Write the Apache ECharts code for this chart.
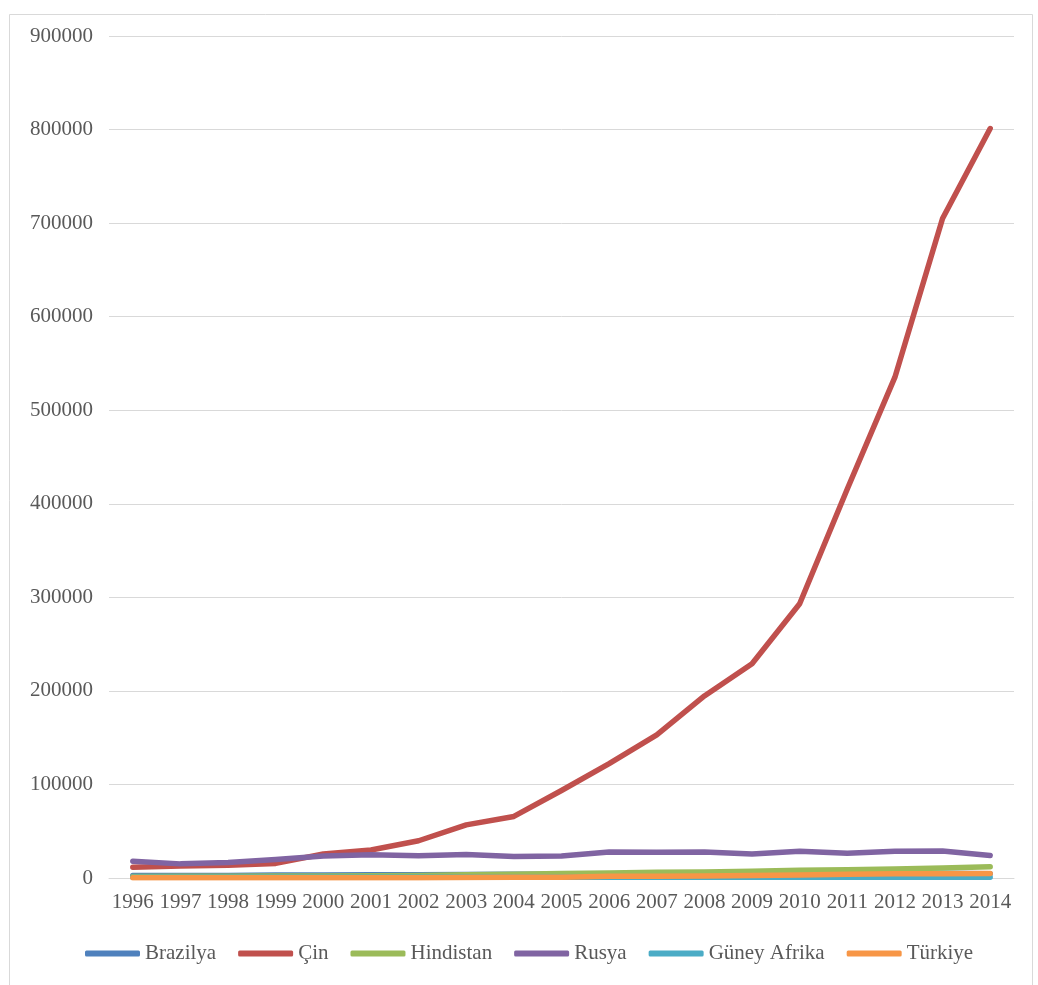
<!DOCTYPE html>
<html>
<head>
<meta charset="utf-8">
<script src="https://cdn.jsdelivr.net/npm/echarts@6/dist/echarts.min.js"></script>
<style>
html,body{margin:0;padding:0;background:#fff;}
#chart{width:1038px;height:985px;}
</style>
</head>
<body>
<div id="chart"></div>
<script>
const years = ['1996','1997','1998','1999','2000','2001','2002','2003','2004','2005','2006','2007','2008','2009','2010','2011','2012','2013','2014'];
const brazilya = [2650,2750,2600,3200,3180,3440,3480,3870,4040,4050,3960,4190,4280,4270,4230,4700,4800,4960,4660];
const cin = [11600,12700,13700,15600,25600,30000,39800,56800,65800,93500,122300,153000,194600,229100,293100,415800,535300,704900,801100];
const hindistan = [1660,1930,1800,2210,2180,2370,2690,3420,4010,4720,5310,6040,6430,7260,8310,8840,9550,10670,12040];
const rusya = [18000,15100,16500,19900,23400,24800,23700,25000,23000,23600,27900,27500,27700,25600,28700,26500,28700,28800,24100];
const guneyAfrika = [900,900,850,850,800,800,850,850,900,900,850,900,850,800,800,750,750,750,800];
const turkiye = [200,200,250,280,280,300,400,500,900,900,1840,2000,2220,2560,3250,3890,4540,4530,4840];
const yTicks = [0,100000,200000,300000,400000,500000,600000,700000,800000,900000];

const seriesDefs = [
  ['Brazilya', brazilya, '#4F81BD'],
  ['Çin', cin, '#C0504D'],
  ['Hindistan', hindistan, '#9BBB59'],
  ['Rusya', rusya, '#8064A2'],
  ['Güney Afrika', guneyAfrika, '#4BACC6'],
  ['Türkiye', turkiye, '#F79646']
];

const font = 'Liberation Serif, Times New Roman, serif';
const chart = echarts.init(document.getElementById('chart'), null, {renderer:'canvas'});
chart.setOption({
  animation: false,
  backgroundColor: '#fff',
  color: seriesDefs.map(s => s[2]),
  graphic: [{
    type: 'rect', silent: true,
    shape: {x: 9.5, y: 14.5, width: 1023, height: 990},
    style: {fill: 'none', stroke: '#D9D9D9', lineWidth: 1}
  }],
  grid: {left: 109, right: 24, top: 36, bottom: 107, containLabel: false},
  legend: {
    bottom: 16, left: 80,
    icon: 'roundRect', itemWidth: 55, itemHeight: 6, itemGap: 22,
    textStyle: {fontFamily: font, fontSize: 21, color: '#595959'},
    data: seriesDefs.map(s => s[0])
  },
  xAxis: {
    type: 'category', data: years, boundaryGap: true,
    axisLine: {lineStyle: {color: '#D9D9D9', width: 1}},
    axisTick: {show: false},
    axisLabel: {interval: 0, margin: 14, fontFamily: font, fontSize: 21, color: '#595959'}
  },
  yAxis: {
    type: 'value', min: 0, max: yTicks[yTicks.length-1], interval: 100000,
    axisLine: {show: false}, axisTick: {show: false},
    splitLine: {lineStyle: {color: '#D9D9D9', width: 1}},
    axisLabel: {margin: 16, fontFamily: font, fontSize: 21, color: '#595959',
      formatter: v => String(v), verticalAlign: 'middle'}
  },
  series: seriesDefs.map(s => ({
    name: s[0], type: 'line', data: s[1], smooth: false,
    showSymbol: false, symbol: 'none',
    lineStyle: {width: 5.5, color: s[2], cap: 'round', join: 'round'},
    itemStyle: {color: s[2]}
  }))
});
</script>
</body>
</html>
